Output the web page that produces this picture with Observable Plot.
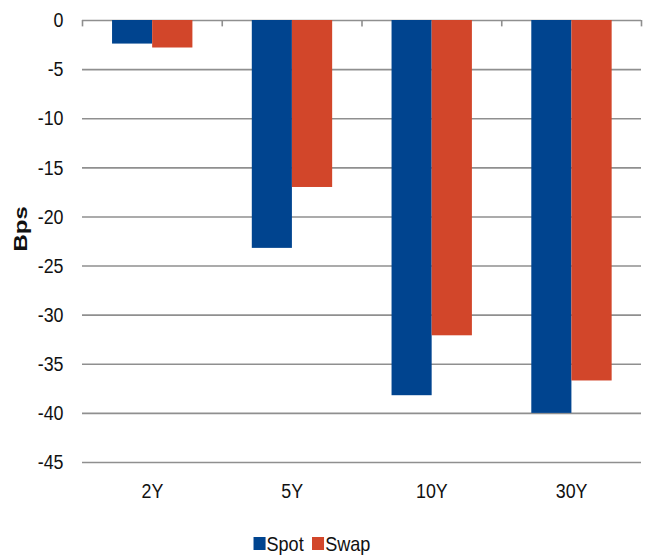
<!DOCTYPE html>
<html>
<head>
<meta charset="utf-8">
<script src="https://cdn.jsdelivr.net/npm/d3@7"></script>
<script src="https://cdn.jsdelivr.net/npm/@observablehq/plot@0.6"></script>
<style>
  body { margin: 0; background: white; }
  #legend { display: flex; justify-content: center; align-items: center; height: 27px;
    font-family: "Liberation Sans", Arial, sans-serif; font-size: 21px; color: #111;
    padding-right: 26px; transform: scaleX(0.86); transform-origin: 312px 50%; }
  .sw { display: inline-block; width: 14px; height: 13px; margin-right: 1px; }
  .item { display: flex; align-items: center; margin: 0 5px; }
</style>
</head>
<body>
<div id="chart"></div>
<div id="legend"></div>
<script>
const categories = ["2Y", "5Y", "10Y", "30Y"];
const series = ["Spot", "Swap"];
const spot = [-2.4, -23.2, -38.2, -40.0];
const swap = [-2.8, -17.0, -32.1, -36.7];
const yTicks = [0, -5, -10, -15, -20, -25, -30, -35, -40, -45];
const colors = { Spot: "#00448f", Swap: "#d2462a" };

const font = "'Liberation Sans', Arial, sans-serif";
const grid = "#8f8f8f";

// band layout within each category slot (fractions of the slot)
const slot = { Spot: [0.215, 0.502], Swap: [0.502, 0.79] };

const data = [];
categories.forEach((c, i) => {
  data.push({ cat: c, i, series: "Spot", value: spot[i] });
  data.push({ cat: c, i, series: "Swap", value: swap[i] });
});
const boundaries = d3.range(categories.length + 1);

const chart = Plot.plot({
  width: 650,
  height: 530,
  marginLeft: 82,
  marginRight: 9,
  marginTop: 20,
  marginBottom: 68,
  style: { fontFamily: font, fontSize: "21px", color: "#111", background: "white", overflow: "visible" },
  x: { domain: [0, categories.length], axis: null },
  y: { domain: [-45, 0], axis: null },
  marks: [
    Plot.ruleY(yTicks, { stroke: grid, strokeWidth: 1.6 }),
    Plot.ruleX(boundaries, { y1: 0, y2: -0.65, stroke: grid, strokeWidth: 1.6 }),
    Plot.rectY(data, {
      x1: d => d.i + slot[d.series][0],
      x2: d => d.i + slot[d.series][1],
      y1: 0,
      y2: "value",
      fill: d => colors[d.series]
    }),
    Plot.axisY({ ticks: yTicks, tickSize: 0, tickPadding: 19, label: null, fontSize: 21, tickFormat: d => d === 0 ? "0" : String(d).replace("−", "-") }),
    Plot.axisX({ ticks: categories.map((c, i) => i + 0.5), tickFormat: v => categories[Math.floor(v)], tickSize: 0, tickPadding: 21, label: null, fontSize: 21 }),
    Plot.text(["Bps"], { text: d => d, frameAnchor: "left", dx: -61, dy: 10, rotate: -90, fontWeight: "bold", fontSize: 24, fill: "#111" })
  ]
});
document.getElementById("chart").appendChild(chart);

// slight horizontal condensing of the text, as in the reference
chart.querySelectorAll('g[aria-label$="tick label"] text').forEach(t => {
  const tr = t.getAttribute("transform") || "";
  t.setAttribute("transform", tr + " scale(0.85,1)");
});
chart.querySelectorAll('g[aria-label="text"] text').forEach(t => {
  const tr = t.getAttribute("transform") || "";
  t.setAttribute("transform", tr + " scale(1,0.75)");
});

const legend = document.getElementById("legend");
series.forEach(s => {
  const it = document.createElement("span");
  it.className = "item";
  const sw = document.createElement("span");
  sw.className = "sw";
  sw.style.background = colors[s];
  it.appendChild(sw);
  it.appendChild(document.createTextNode(s));
  legend.appendChild(it);
});
</script>
</body>
</html>
